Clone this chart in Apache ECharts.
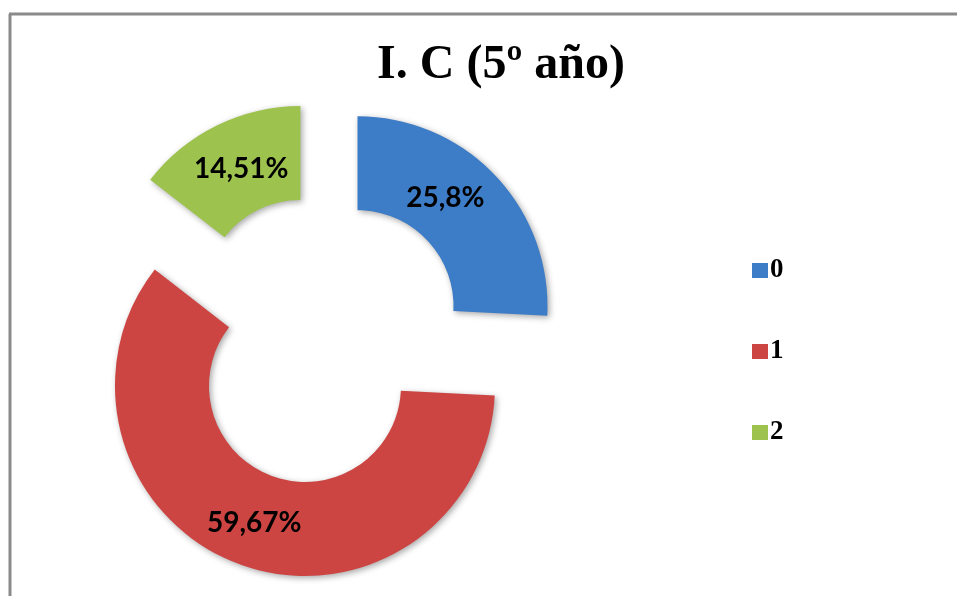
<!DOCTYPE html>
<html>
<head>
<meta charset="utf-8">
<script src="https://cdn.jsdelivr.net/npm/echarts@6/dist/echarts.min.js"></script>
<style>
  html, body { margin: 0; padding: 0; background: #ffffff; }
  #chart { width: 957px; height: 596px; }
</style>
</head>
<body>
<div id="chart"></div>
<script>
// Chart data
const titleText = 'I. C (5º año)';
const categories = ['0', '1', '2'];
const values = [25.8, 59.67, 14.51];
const colors = ['#3d7cc6', '#cc4542', '#9ec24e'];

const chart = echarts.init(document.getElementById('chart'));

function pctLabel(v) {
  return String(v).replace('.', ',') + '%';
}

const pieData = categories.map((name, i) => ({
  name: name,
  value: values[i],
  selected: true,
  itemStyle: { color: colors[i] }
}));

chart.setOption({
  backgroundColor: '#ffffff',
  animation: false,
  title: {
    text: titleText,
    left: 496,
    top: 37,
    textAlign: 'center',
    textStyle: {
      fontFamily: 'Liberation Serif',
      fontWeight: 'bold',
      fontSize: 48,
      color: '#000000'
    }
  },
  legend: {
    orient: 'vertical',
    left: 747,
    top: 252,
    itemWidth: 16,
    itemHeight: 15,
    itemGap: 54,
    icon: 'rect',
    selectedMode: false,
    textStyle: {
      fontFamily: 'Liberation Serif',
      fontWeight: 'bold',
      fontSize: 27,
      color: '#000000',
      padding: [0, 0, 0, -3],
      lineHeight: 22
    },
    data: categories
  },
  graphic: [
    { type: 'line', shape: { x1: 9, y1: 14, x2: 957, y2: 14 }, style: { stroke: '#8a8a8a', lineWidth: 3 } },
    { type: 'line', shape: { x1: 10, y1: 14, x2: 10, y2: 596 }, style: { stroke: '#8a8a8a', lineWidth: 3 } }
  ],
  series: [{
    type: 'pie',
    center: [322, 340],
    radius: [96, 190],
    startAngle: 90,
    clockwise: true,
    selectedMode: 'multiple',
    selectedOffset: 49,
    avoidLabelOverlap: false,
    emphasis: { disabled: true },
    itemStyle: {
      shadowBlur: 6,
      shadowColor: 'rgba(0,0,0,0.35)',
      shadowOffsetX: 2,
      shadowOffsetY: 2
    },
    label: {
      show: true,
      position: 'inside',
      formatter: p => pctLabel(p.value),
      fontFamily: 'Lato',
      fontWeight: 'bold',
      fontSize: 28,
      color: '#000000'
    },
    // nudge the labels toward the inner part of each ring segment
    labelLayout: p => {
      if (p.dataIndex === 0) return { dx: -18, dy: -8 };
      if (p.dataIndex === 2) return { dx: 5, dy: 4 };
      return {};
    },
    labelLine: { show: false },
    data: pieData
  }]
});
</script>
</body>
</html>
